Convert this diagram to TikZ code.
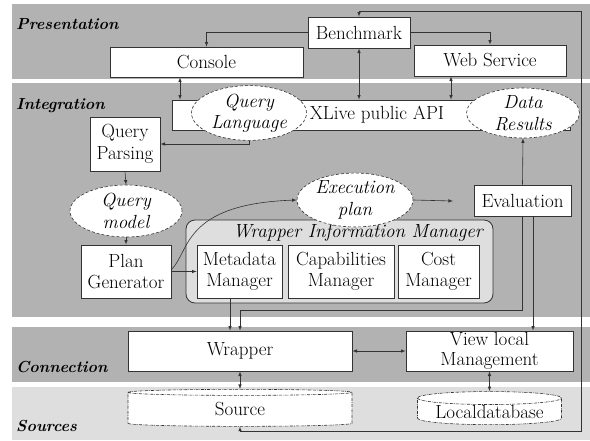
\documentclass[tikz,border=0pt]{standalone}
\usetikzlibrary{shapes}
\usetikzlibrary{calc}

\begin{document}
\begin{tikzpicture}[x=1pt,y=-1pt,
	font=\fontsize{19}{21.5}\selectfont,
	box/.style={draw=black!80, fill=white, line width=0.8pt, rectangle, inner sep=1pt, align=center},
	bubble/.style={draw=black!80, fill=white, line width=0.6pt, densely dashed, ellipse, inner sep=0pt, align=center, font=\fontsize{19}{21.5}\selectfont\itshape},
	store/.style={draw=black!80, fill=white, line width=0.6pt, densely dash dot, cylinder, shape border rotate=90, aspect=0.12, inner sep=0pt},
	layer/.style={font=\fontsize{16}{20}\selectfont\bfseries\itshape, anchor=west, inner sep=0pt},
	wire/.style={draw=black!80, line width=0.6pt, >=latex}]
	\useasboundingbox (0,0) rectangle (590,440);
	% layers
	\fill[black!30] (12,4) rectangle (590,79);
	\fill[black!30] (12,83) rectangle (590,317);
	\fill[black!30] (12,327) rectangle (590,382);
	\fill[black!13] (12,387) rectangle (590,440);
	\node[layer] (lpres) at (16,24) {Presentation};
	\node[layer] (linteg) at (16,106) {Integration};
	\node[layer] (lconn) at (16,367) {Connection};
	\node[layer] (lsrc) at (16,426) {Sources};
	% presentation
	\node[box, minimum width=102, minimum height=31] (bench) at (359,32.5) {Benchmark};
	\node[box, minimum width=193, minimum height=30] (cons) at (206.5,62) {Console};
	\node[box, minimum width=152, minimum height=31] (web) at (490,60.5) {Web Service};
	% integration
	\node[box, minimum width=398, minimum height=30] (api) at (371,115) {\hspace{12pt}XLive public API};
	\node[bubble, minimum width=115, minimum height=54] (ql) at (249,113) {Query\\Language};
	\node[bubble, minimum width=113, minimum height=50] (dr) at (523,113) {Data\\Results};
	\node[box, minimum width=70, minimum height=54] (qp) at (125,144) {Query\\Parsing};
	\node[bubble, minimum width=112, minimum height=52] (qm) at (126,211) {Query\\model};
	\node[box, minimum width=90, minimum height=53] (pg) at (126,271.5) {Plan\\Generator};
	\node[draw=black!80, fill=black!13, line width=0.8pt, rounded corners=9pt,
		minimum width=307, minimum height=83] (wim) at (339.5,261.5) {};
	\node[font=\fontsize{19}{21.5}\selectfont\itshape, inner sep=0pt] (wimtitle) at (358,233) {Wrapper Information Manager};
	\node[box, minimum width=85, minimum height=53] (md) at (239.5,271.5) {Metadata\\Manager};
	\node[box, minimum width=106, minimum height=53] (cap) at (341,271.5) {Capabilities\\Manager};
	\node[box, minimum width=81, minimum height=53] (cost) at (438.5,271.5) {Cost\\Manager};
	\node[bubble, minimum width=116, minimum height=52] (exec) at (355,200) {Execution\\plan};
	\node[box, minimum width=97, minimum height=31] (eval) at (522.5,200.5) {Evaluation};
	\coordinate (evalin) at (453,201);
	% connection
	\node[box, minimum width=224, minimum height=40] (wrap) at (240,351) {Wrapper};
	\node[box, minimum width=167, minimum height=40, font=\fontsize{19}{20}\selectfont] (view) at (489.5,351) {View local\\Management};
	% sources
	\node[store, minimum width=224, minimum height=37] (src) at (240,409.5) {Source};
	\node[store, minimum width=144, minimum height=32] (ldb) at (489.5,411.5) {Localdatabase};
	% connectors
	\draw[wire,->] (bench.west) -| (cons.north);
	\draw[wire,->] (bench.east) -| (web.north);
	\draw[wire,<->] (bench.south) -- (bench.south |- api.north);
	\draw[wire,<->] (cons.south -| 180,0) -- (api.north -| 180,0);
	\draw[wire,<->] (web.south -| 451,0) -- (api.north -| 451,0);
	\draw[wire,->] (ql.south) |- (qp.east);
	\draw[wire,->] (qp.south) -- (qm.north);
	\draw[wire,->] (qm.south) -- (pg.north);
	\draw[wire,->] (pg.east) -- (md.west);
	\draw[wire,->] ([yshift=2pt]pg.east) .. controls (190,252) and (182,204) .. (exec.west);
	\draw[wire,->] (exec.east) -- (evalin);
	\draw[wire,->] (eval.north) -- (dr.south);
	\draw[wire,->] (eval.south) -- ++(0,94) -| (wrap.north);
	\draw[wire,->] (eval.south -| 533,0) -- (view.north -| 533,0);
	\draw[wire,->] (md.south -| 230,0) -- (wrap.north -| 230,0);
	\draw[wire,<->] (wrap.east) -- (view.west);
	\draw[wire,<->] (wrap.south) -- (src.north);
	\draw[wire,<->] (view.south) -- (ldb.north);
	\draw[wire,<->] (src.south) |- (581,431) -- (581,11) -| (bench.north);
\end{tikzpicture}
\end{document}
